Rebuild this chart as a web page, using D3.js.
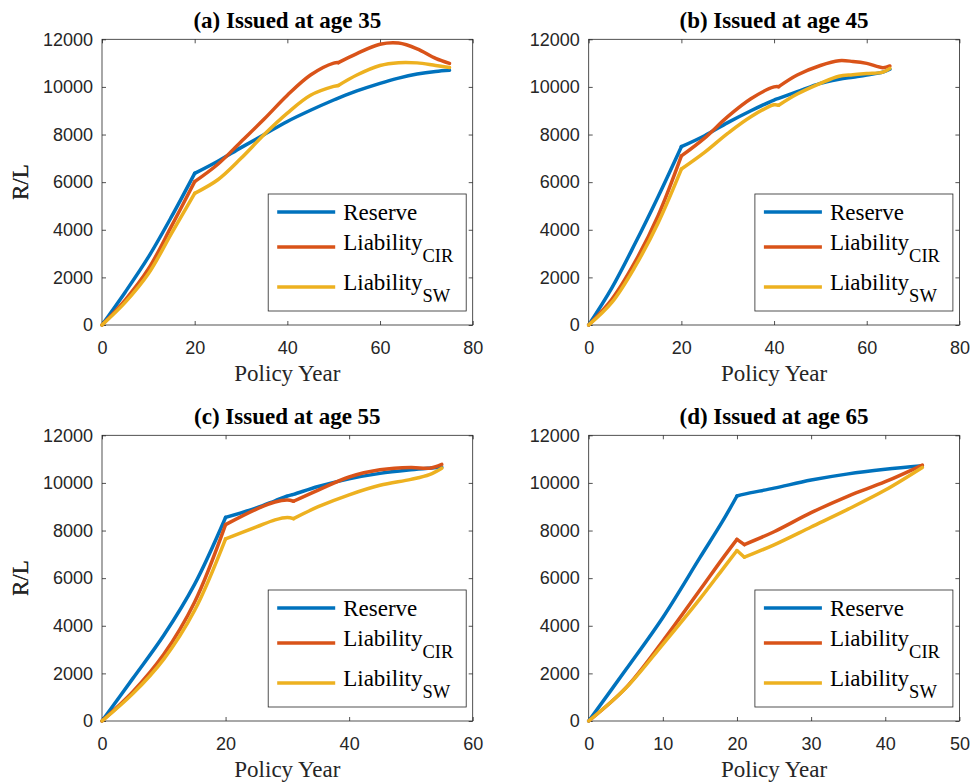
<!DOCTYPE html>
<html>
<head>
<meta charset="utf-8">
<script src="https://cdn.jsdelivr.net/npm/d3@7"></script>
<style>
  body { margin: 0; background: #fff; }
  .tick text { font-family: "Liberation Sans", Arial, sans-serif; font-size: 18px; fill: #262626; }
  .tick line { stroke: #262626; stroke-width: 0.8; }
  .serif { font-family: "Liberation Serif", "Times New Roman", serif; }
</style>
</head>
<body>
<script>
var w = 972;
var h = 783;

// panel titles and x extents
var titles = ["(a) Issued at age 35", "(b) Issued at age 45", "(c) Issued at age 55", "(d) Issued at age 65"];
var xMax = [80, 80, 60, 50];
var xTicks = [[0, 20, 40, 60, 80], [0, 20, 40, 60, 80], [0, 20, 40, 60], [0, 10, 20, 30, 40, 50]];
var yTicks = [0, 2000, 4000, 6000, 8000, 10000, 12000];
// end of premium period, and the later dip of the liability curves
var kinks = [[20, 51], [20, 41], [20, 31], [20, 21]];

var seriesNames = ["Reserve", "Liability", "Liability"];
var seriesSubs = ["", "CIR", "SW"];
var colors = ["#0072BD", "#D95319", "#EDB120"];

// (a) age 35
var yearsA = [0, 5, 10, 15, 20, 25, 30, 35, 40, 45, 50, 51, 55, 60, 64, 68, 72, 75];
var reserveA = [0, 1380, 2850, 4550, 6370, 6880, 7450, 8000, 8550, 9020, 9450, 9530, 9830, 10150, 10370, 10540, 10650, 10700];
var cirA = [0, 1050, 2350, 4150, 6020, 6750, 7700, 8650, 9650, 10500, 11000, 11020, 11400, 11790, 11840, 11600, 11200, 10990];
var swA = [0, 950, 2150, 3850, 5530, 6100, 7000, 8000, 8900, 9650, 10020, 10060, 10500, 10900, 11020, 11010, 10900, 10820];

// (b) age 45
var yearsB = [0, 5, 10, 15, 20, 25, 30, 35, 40, 41, 45, 50, 54, 57, 60, 63.5, 65];
var reserveB = [0, 1560, 3420, 5400, 7490, 7950, 8500, 9000, 9450, 9520, 9800, 10150, 10320, 10410, 10500, 10620, 10740];
var cirB = [0, 1080, 2650, 4600, 7100, 7850, 8750, 9500, 10000, 10010, 10500, 10900, 11100, 11070, 10990, 10810, 10880];
var swB = [0, 950, 2450, 4300, 6550, 7250, 8050, 8750, 9250, 9230, 9700, 10150, 10450, 10510, 10560, 10620, 10780];

// (c) age 55
var yearsC = [0, 5, 10, 15, 20, 25, 28, 30, 31, 35, 40, 45, 50, 53, 55];
var reserveC = [0, 1790, 3600, 5750, 8550, 8950, 9250, 9450, 9520, 9850, 10170, 10400, 10550, 10620, 10660];
var cirC = [0, 1230, 2800, 5000, 8250, 8900, 9200, 9280, 9230, 9700, 10250, 10550, 10650, 10620, 10780];
var swC = [0, 1150, 2600, 4650, 7650, 8150, 8450, 8550, 8500, 9000, 9500, 9900, 10150, 10350, 10620];

// (d) age 65
var yearsD = [0, 5, 10, 15, 18, 20, 21, 25, 30, 35, 40, 45];
var reserveD = [0, 2150, 4350, 6860, 8360, 9450, 9530, 9780, 10120, 10380, 10570, 10720];
var cirD = [0, 1390, 3360, 5500, 6800, 7630, 7410, 7950, 8750, 9450, 10050, 10750];
var swD = [0, 1380, 3220, 5130, 6350, 7160, 6880, 7400, 8150, 8900, 9700, 10650];

var years = [yearsA, yearsB, yearsC, yearsD];
var values = [[reserveA, cirA, swA], [reserveB, cirB, swB], [reserveC, cirC, swC], [reserveD, cirD, swD]];

var lefts = [102, 588.7];
var tops = [39.3, 435.3];
var pw = 370.7;
var ph = 285.7;

var svg = d3.select("body")
  .append("svg")
  .attr("width", w)
  .attr("height", h);

for (var p = 0; p < 4; p++) {
  var x0 = lefts[p % 2];
  var y0 = tops[Math.floor(p / 2)];

  var xScale = d3.scaleLinear().domain([0, xMax[p]]).range([0, pw]);
  var yScale = d3.scaleLinear().domain([0, 12000]).range([ph, 0]);

  var g = svg.append("g").attr("transform", "translate(" + x0 + "," + y0 + ")");

  // axes, ticks pointing inward on all four sides
  g.append("g")
    .attr("transform", "translate(0," + ph + ")")
    .call(d3.axisBottom(xScale).tickValues(xTicks[p]).tickSize(-4).tickPadding(16).tickFormat(d3.format("d")))
    .call(function(s) { s.select(".domain").remove(); });
  g.append("g")
    .call(d3.axisTop(xScale).tickValues(xTicks[p]).tickSize(-4).tickFormat(""))
    .call(function(s) { s.select(".domain").remove(); });
  g.append("g")
    .call(d3.axisLeft(yScale).tickValues(yTicks).tickSize(-4).tickPadding(9).tickFormat(d3.format("d")))
    .call(function(s) { s.select(".domain").remove(); });
  g.append("g")
    .attr("transform", "translate(" + pw + ",0)")
    .call(d3.axisRight(yScale).tickValues(yTicks).tickSize(-4).tickFormat(""))
    .call(function(s) { s.select(".domain").remove(); });

  g.append("rect")
    .attr("width", pw)
    .attr("height", ph)
    .attr("fill", "none")
    .attr("stroke", "#262626")
    .attr("stroke-width", 0.8);

  // curves, split at the kink years so the corners stay sharp
  var line = d3.line()
    .x(function(d) { return xScale(d[0]); })
    .y(function(d) { return yScale(d[1]); })
    .curve(d3.curveCatmullRom.alpha(0.5));

  var yrs = years[p];
  for (var s = 0; s < 3; s++) {
    var pts = yrs.map(function(yr, i) { return [yr, values[p][s][i]]; });
    var cuts = s == 0 ? [kinks[p][0]] : kinks[p];
    var bounds = [0].concat(cuts).concat([yrs[yrs.length - 1]]);
    for (var b = 0; b < bounds.length - 1; b++) {
      var seg = pts.filter(function(d) { return d[0] >= bounds[b] && d[0] <= bounds[b + 1]; });
      g.append("path")
        .datum(seg)
        .attr("d", line)
        .attr("fill", "none")
        .attr("stroke", colors[s])
        .attr("stroke-width", 3.5)
        .attr("stroke-linejoin", "round")
        .attr("stroke-linecap", "round");
    }
  }

  // title and labels
  g.append("text")
    .attr("class", "serif")
    .attr("x", pw / 2)
    .attr("y", -11)
    .attr("text-anchor", "middle")
    .style("font-size", "23px")
    .style("font-weight", "bold")
    .text(titles[p]);

  g.append("text")
    .attr("class", "serif")
    .attr("x", pw / 2)
    .attr("y", ph + 56)
    .attr("text-anchor", "middle")
    .style("font-size", "23px")
    .attr("fill", "#262626")
    .text("Policy Year");

  g.append("text")
    .attr("class", "serif")
    .attr("transform", "translate(" + (28 - x0) + "," + (ph / 2) + ") rotate(-90)")
    .attr("text-anchor", "middle")
    .style("font-size", "23px")
    .attr("fill", "#262626")
    .text("R/L");

  // legend
  var lw = 198;
  var lh = 117;
  var lg = g.append("g").attr("transform", "translate(" + (pw - 6.5 - lw) + "," + (ph - 14 - lh) + ")");
  lg.append("rect")
    .attr("width", lw)
    .attr("height", lh)
    .attr("fill", "#fff")
    .attr("stroke", "#262626")
    .attr("stroke-width", 0.8);

  var lineY = [18, 53, 93];
  var baseY = [26, 56, 96];
  for (var s = 0; s < 3; s++) {
    lg.append("line")
      .attr("x1", 9)
      .attr("x2", 67)
      .attr("y1", lineY[s])
      .attr("y2", lineY[s])
      .attr("stroke", colors[s])
      .attr("stroke-width", 3.5);
    var t = lg.append("text")
      .attr("class", "serif")
      .attr("x", 75)
      .attr("y", baseY[s])
      .style("font-size", "23px")
      .text(seriesNames[s]);
    if (seriesSubs[s] != "") {
      t.append("tspan")
        .attr("dy", 12)
        .style("font-size", "18.5px")
        .text(seriesSubs[s]);
    }
  }
}
</script>
</body>
</html>
